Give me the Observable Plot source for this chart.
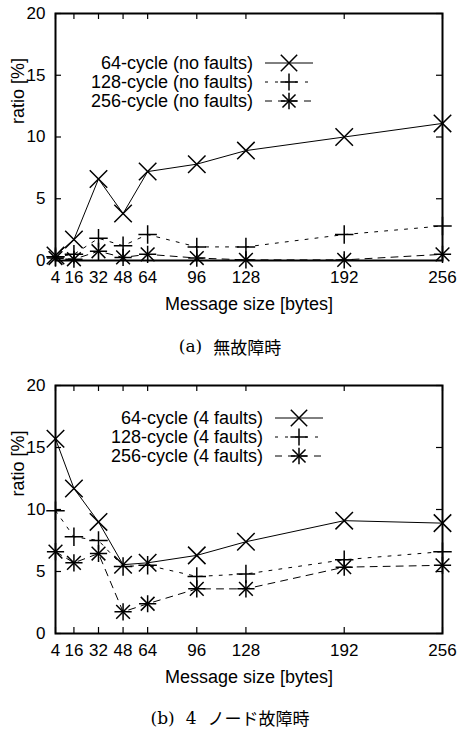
<!DOCTYPE html>
<html><head><meta charset="utf-8">
<script src="https://cdn.jsdelivr.net/npm/d3@7"></script>
<script src="https://cdn.jsdelivr.net/npm/@observablehq/plot@0.6"></script>
<style>
body{margin:0;background:#fff;width:460px;height:735px;overflow:hidden}
.cap{display:flex;align-items:center;justify-content:center;font-size:17px;color:#000}
.ser{font-family:"DejaVu Serif","Liberation Serif",serif}
.jp{font-family:"Noto Sans CJK JP",sans-serif}
svg{display:block}
</style></head><body><div id="root"></div>
<script>
// Message sizes (x) and y ticks
const sizes = [4, 16, 32, 48, 64, 96, 128, 192, 256];
const yTicks = [0, 5, 10, 15, 20];
const xLabel = "Message size [bytes]";
const yLabel = "ratio [%]";

// (a) no faults
const namesA = ["64-cycle (no faults)", "128-cycle (no faults)", "256-cycle (no faults)"];
const a64  = [0.4, 1.7, 6.6, 3.8, 7.2, 7.8, 8.9, 10.0, 11.1];
const a128 = [0.3, 0.5, 1.8, 1.2, 2.1, 1.1, 1.1, 2.1, 2.8];
const a256 = [0.2, 0.1, 0.75, 0.25, 0.5, 0.2, 0.05, 0.05, 0.5];
const captionA = ["(a)", "無故障時"];

// (b) 4 faults
const namesB = ["64-cycle (4 faults)", "128-cycle (4 faults)", "256-cycle (4 faults)"];
const b64  = [15.7, 11.7, 9.0, 5.55, 5.7, 6.3, 7.4, 9.1, 8.9];
const b128 = [9.9, 7.8, 7.5, 5.4, 5.5, 4.6, 4.8, 5.95, 6.6];
const b256 = [6.6, 5.7, 6.45, 1.75, 2.4, 3.6, 3.6, 5.35, 5.5];
const captionB = ["(b)", "4", "ノード故障時"];

const dashes = [null, "3,7", "7,6"];
const FONT = "'Liberation Sans', Arial, Helvetica, sans-serif";

function chart(names, series, cfg) {
  const W = 460, H = cfg.height;
  const mL = 55, mR = 18, mT = cfg.marginTop, mB = cfg.marginBottom;
  const ph = H - mT - mB, pw = W - mL - mR;
  const tl = 6; // px tick length
  const ty = tl * 20 / ph, tx = tl * 252 / pw;
  const rows = series.map((vals, i) => sizes.map((s, j) => ({size: s, value: vals[j], series: i})));
  const marks = [];
  rows.forEach((r, i) => {
    marks.push(Plot.line(r, {x: "size", y: "value", stroke: "black", strokeWidth: 1, strokeDasharray: dashes[i]}));
  });
  marks.push(Plot.dot(rows[0], {x: "size", y: "value", symbol: "times", r: 8, stroke: "black", fill: "none", strokeWidth: 1.5}));
  marks.push(Plot.dot(rows[1], {x: "size", y: "value", symbol: "plus", r: 6, stroke: "black", fill: "none", strokeWidth: 1.5}));
  marks.push(Plot.dot(rows[2], {x: "size", y: "value", symbol: "plus", r: 5.6, stroke: "black", fill: "none", strokeWidth: 1.5}));
  marks.push(Plot.dot(rows[2], {x: "size", y: "value", symbol: "times", r: 6.3, stroke: "black", fill: "none", strokeWidth: 1.5}));
  // ticks (inward, all sides)
  marks.push(Plot.ruleX(sizes, {x: d => d, y1: 0, y2: ty, stroke: "black", strokeWidth: 1.2}));
  marks.push(Plot.ruleX(sizes, {x: d => d, y1: 20 - ty, y2: 20, stroke: "black", strokeWidth: 1.2}));
  marks.push(Plot.ruleY(yTicks, {y: d => d, x1: 4, x2: 4 + tx, stroke: "black", strokeWidth: 1.2}));
  marks.push(Plot.ruleY(yTicks, {y: d => d, x1: 256 - tx, x2: 256, stroke: "black", strokeWidth: 1.2}));
  marks.push(Plot.frame({stroke: "black", strokeWidth: 2}));
  // tick labels
  marks.push(Plot.text(sizes, {x: d => d, frameAnchor: "bottom", dy: 22, text: d => String(d), fontSize: 17, fill: "black"}));
  marks.push(Plot.text(yTicks, {y: d => d, frameAnchor: "left", dx: -10, textAnchor: "end", text: d => String(d), fontSize: 17, fill: "black"}));
  marks.push(Plot.text([xLabel], {frameAnchor: "bottom", dy: 49, text: d => d, fontSize: 18, fill: "black"}));
  marks.push(Plot.text([yLabel], {frameAnchor: "left", dx: -37, dy: -13, rotate: -90, text: d => d, fontSize: 18, fill: "black"}));

  const svg = Plot.plot({
    width: W, height: H, marginLeft: mL, marginRight: mR, marginTop: mT, marginBottom: mB,
    x: {domain: [4, 256], axis: null},
    y: {domain: [0, 20], axis: null},
    style: {fontFamily: FONT, fontSize: "18px", background: "white", overflow: "visible", color: "black"},
    marks
  });

  // legend
  const g = d3.select(svg).append("g").attr("font-family", FONT).attr("font-size", 18);
  const lg = cfg.legend;
  names.forEach((name, i) => {
    const y = lg.y0 + i * lg.dy;
    g.append("text").attr("x", lg.textRight).attr("y", y).attr("dy", "0.35em")
      .attr("text-anchor", "end").attr("fill", "black").text(name);
    g.append("line").attr("x1", lg.x1).attr("x2", lg.x2).attr("y1", y).attr("y2", y)
      .attr("stroke", "black").attr("stroke-width", 1)
      .attr("stroke-dasharray", dashes[i]);
    const cx = (lg.x1 + lg.x2) / 2;
    const syms = i === 0 ? [[d3.symbolTimes, 7.5]] : i === 1 ? [[d3.symbolPlus, 5.6]] : [[d3.symbolPlus, 5.3], [d3.symbolTimes, 6]];
    syms.forEach(([s, r]) => {
      g.append("path").attr("d", d3.symbol(s, Math.PI * r * r)())
        .attr("transform", `translate(${cx},${y})`)
        .attr("stroke", "black").attr("stroke-width", 1.5).attr("fill", "none");
    });
  });
  return svg;
}

function caption(parts, h) {
  const div = document.createElement("div");
  div.className = "cap";
  div.style.height = h + "px";
  parts.forEach((p, i) => {
    const s = document.createElement("span");
    s.className = /^[\x00-\x7F]+$/.test(p) ? "ser" : "jp";
    s.textContent = p;
    if (i > 0) s.style.marginLeft = "11px";
    div.appendChild(s);
  });
  return div;
}

const root = document.getElementById("root");
root.appendChild(chart(namesA, [a64, a128, a256], {
  height: 325, marginTop: 13, marginBottom: 65,
  legend: {textRight: 253, x1: 265, x2: 313, y0: 63, dy: 19}
}));
root.appendChild(caption(captionA, 42));
root.appendChild(chart(namesB, [b64, b128, b256], {
  height: 328, marginTop: 18, marginBottom: 62,
  legend: {textRight: 263, x1: 275, x2: 323, y0: 51, dy: 19}
}));
root.appendChild(caption(captionB, 45));
</script>
</body></html>
